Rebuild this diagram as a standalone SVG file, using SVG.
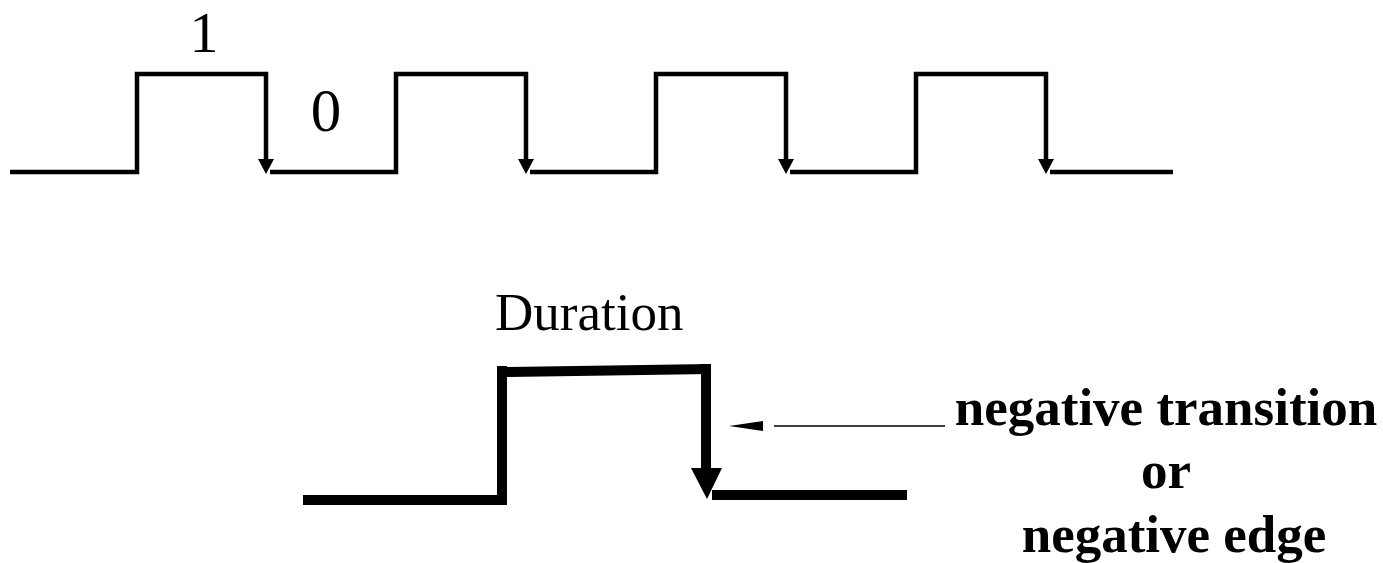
<svg xmlns="http://www.w3.org/2000/svg" width="1383" height="563" viewBox="0 0 1383 563">
<style>
.w{fill:none;stroke:#000;stroke-width:4.5;stroke-linecap:butt;stroke-linejoin:miter}
.b{fill:none;stroke:#000;stroke-width:10;stroke-linecap:butt;stroke-linejoin:miter}
.ah{fill:#000;stroke:none}
.lbl{font-family:"Liberation Serif","Times New Roman",serif;fill:#000}
.bold{font-family:"Liberation Serif","Times New Roman",serif;font-weight:bold;fill:#000;font-size:53px;text-anchor:middle}
</style>
<g id="top-waveform">
<path class="w" d="M10,172 H137 V74 H266 V160"/>
<polygon class="ah" points="258,159 274,159 266,174"/>
<path class="w" d="M270,172 H396 V74 H526 V160"/>
<polygon class="ah" points="518,159 534,159 526,174"/>
<path class="w" d="M530,172 H656 V74 H786 V160"/>
<polygon class="ah" points="778,159 794,159 786,174"/>
<path class="w" d="M790,172 H916 V74 H1046 V160"/>
<polygon class="ah" points="1038,159 1054,159 1046,174"/>
<path class="w" d="M1050,172 H1173"/>
</g>
<g id="label-1"><text class="lbl" x="204" y="52" font-size="58" text-anchor="middle">1</text></g>
<g id="label-0"><text class="lbl" x="326" y="131" font-size="61" text-anchor="middle">0</text></g>
<g id="bottom-waveform">
<line class="b" x1="303" y1="500" x2="502" y2="500"/>
<line class="b" x1="502" y1="366" x2="502" y2="505"/>
<line class="b" x1="502" y1="372" x2="711" y2="369"/>
<line class="b" x1="706" y1="364" x2="706" y2="470"/>
<polygon class="ah" points="691,468 722,468 707,499"/>
<line class="b" x1="712" y1="495" x2="907" y2="495"/>
</g>
<g id="label-duration"><text class="lbl" x="495" y="330" font-size="53">Duration</text></g>
<g id="connectors">
<polygon class="ah" points="729,426 763,421 763,431"/>
<line x1="774" y1="426" x2="945" y2="426" stroke="#000" stroke-width="1.5"/>
</g>
<g id="label-negative">
<text class="bold" x="1166" y="425">negative transition</text>
<text class="bold" x="1166" y="488">or</text>
<text class="bold" x="1174" y="552">negative edge</text>
</g>
</svg>
